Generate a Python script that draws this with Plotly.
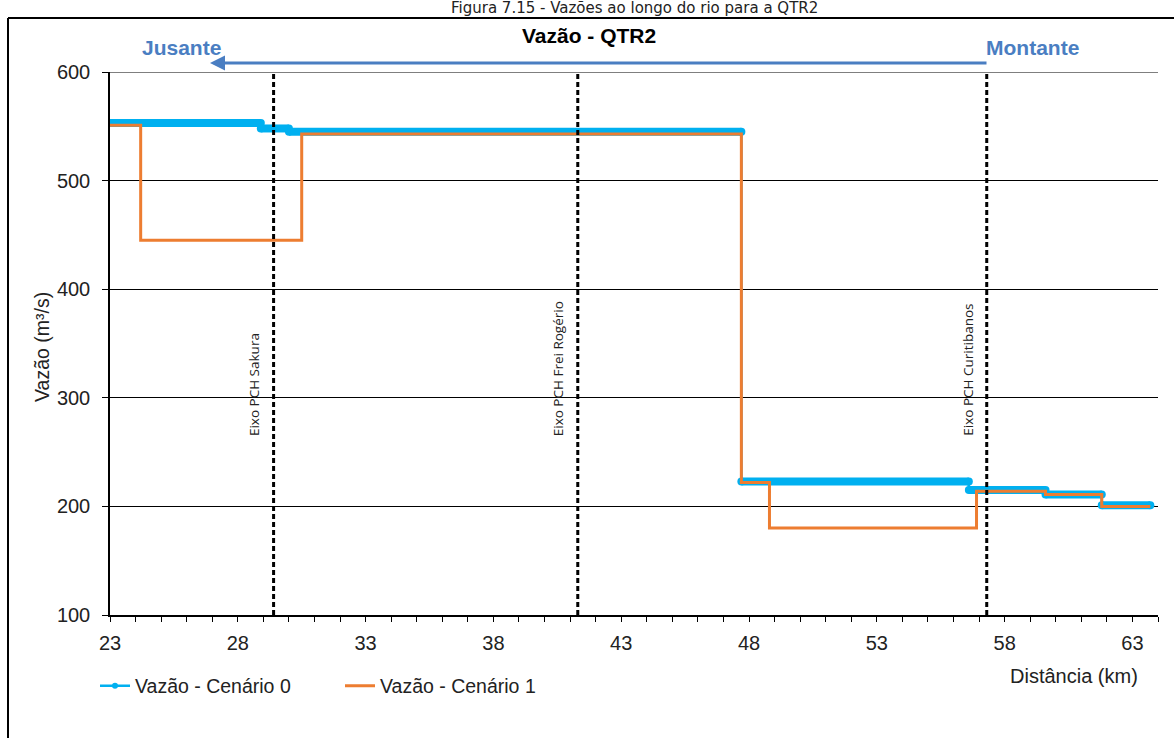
import plotly.graph_objects as go

# ---- data ----
c0_x = [23.0, 28.9, 30.0, 47.7, 56.6, 59.6, 61.8, 63.7]
c0_y = [553, 548, 545, 223, 215, 211, 201, 201]
c1_x = [23.0, 24.2, 30.5, 47.7, 48.8, 56.9, 59.6, 61.8, 63.7]
c1_y = [551, 445, 543, 222, 180, 214, 211, 200, 200]
axes_x = [29.4, 41.3, 57.3]
axes_names = ["Eixo PCH Sakura", "Eixo PCH Frei Rogério", "Eixo PCH Curitibanos"]
x_ticks = [23, 28, 33, 38, 43, 48, 53, 58, 63]
y_ticks = [100, 200, 300, 400, 500, 600]

BLUE = "#00B0F0"
ORANGE = "#ED7D31"
LBLUE = "#4A7EC2"
FONT = "Liberation Sans, Arial, sans-serif"

W, H = 1174, 738
L, R, T, B = 110, 16, 72, 123
pw, ph = W - L - R, H - T - B


def px(x):
    return (x - L) / pw


def py(y):
    return (H - B - y) / ph


fig = go.Figure()

# thick horizontal segments of scenario 0 (dense markers in the original)
seg_x, seg_y = [], []
for i in range(len(c0_x) - 1):
    seg_x += [c0_x[i], c0_x[i + 1], None]
    seg_y += [c0_y[i], c0_y[i], None]
fig.add_trace(go.Scatter(x=seg_x, y=seg_y, mode="lines+markers",
                         line=dict(color=BLUE, width=8),
                         marker=dict(color=BLUE, size=8),
                         showlegend=False, hoverinfo="skip"))
fig.add_trace(go.Scatter(x=c0_x, y=c0_y, mode="lines+markers", line_shape="hv",
                         line=dict(color=BLUE, width=2.5),
                         marker=dict(color=BLUE, size=6),
                         name="Vazão - Cenário 0"))
fig.add_trace(go.Scatter(x=c1_x, y=c1_y, mode="lines", line_shape="hv",
                         line=dict(color=ORANGE, width=3),
                         name="Vazão - Cenário 1"))

shapes = []
for xv in axes_x:
    shapes.append(dict(type="line", xref="x", yref="paper", x0=xv, x1=xv, y0=0, y1=1,
                       line=dict(color="black", width=3, dash="5px,3px")))
# top gridline
shapes.append(dict(type="line", xref="paper", yref="y", x0=0, x1=1, y0=600, y1=600,
                   line=dict(color="black", width=1)))
# frame of the figure
shapes.append(dict(type="line", xref="paper", yref="paper", x0=px(8), x1=px(1180),
                   y0=py(18), y1=py(18), line=dict(color="black", width=2)))
shapes.append(dict(type="line", xref="paper", yref="paper", x0=px(8), x1=px(8),
                   y0=py(18), y1=py(745), line=dict(color="black", width=2)))


def txt(x, y, text, size, color="#222", family=FONT, angle=0):
    return dict(x=px(x), y=py(y), xref="paper", yref="paper", text=text, showarrow=False,
                xanchor="center", yanchor="middle", textangle=angle,
                font=dict(family=family, size=size, color=color))


annotations = []
for xv, name in zip(axes_x, axes_names):
    annotations.append(dict(x=xv, y=263, xref="x", yref="y", text=name, showarrow=False,
                            textangle=-90, xanchor="right", yanchor="bottom", xshift=-8,
                            font=dict(family="Open Sans, sans-serif", size=13.5, color="#222")))
annotations += [
    txt(634, 8.5, "Figura 7.15 - Vazões ao longo do rio para a QTR2", 15,
        family="DejaVu Sans, sans-serif"),
    txt(589, 36, "<b>Vazão - QTR2</b>", 21, color="black"),
    txt(181, 47, "<b>Jusante</b>", 21, color=LBLUE),
    txt(1032, 48, "<b>Montante</b>", 21, color=LBLUE),
    dict(x=px(210), y=py(63), xref="paper", yref="paper", ax=778, ay=0, text="",
         showarrow=True, arrowhead=2, arrowsize=1, arrowwidth=3, arrowcolor=LBLUE,
         standoff=0),
    txt(1074, 676, "Distância (km)", 20),
    txt(42, 347, "Vazão (m³/s)", 19.5, angle=-90),
]

fig.update_layout(
    width=W, height=H,
    margin=dict(l=L, r=R, t=T, b=B),
    paper_bgcolor="white", plot_bgcolor="white",
    font=dict(family=FONT, size=18, color="#222"),
    showlegend=True,
    legend=dict(orientation="h", x=px(95), y=py(686), xanchor="left", yanchor="middle",
                font=dict(family=FONT, size=19.5, color="#222"), itemwidth=30,
                entrywidth=200, bgcolor="rgba(0,0,0,0)"),
    xaxis=dict(range=[23, 64], tickvals=x_ticks, showgrid=False, zeroline=False,
               showline=True, linecolor="black", linewidth=1.5,
               ticks="outside", ticklen=5, tickcolor="black",
               minor=dict(dtick=1, tick0=23, ticks="outside", ticklen=5, tickcolor="black"),
               tickfont=dict(size=20, color="#222"), ticklabelstandoff=4),
    xaxis2=dict(range=[23, 64], overlaying="x", anchor="y", side="bottom",
                tick0=23, dtick=1, ticks="inside", ticklen=5, tickcolor="black",
                showticklabels=False, showgrid=False, zeroline=False, showline=False),
    yaxis=dict(range=[100, 600], tickvals=y_ticks, showgrid=True, gridcolor="black",
               gridwidth=1, zeroline=False, showline=True, linecolor="black", linewidth=1.5,
               ticks="outside", ticklen=6, tickcolor="black",
               tickfont=dict(size=20, color="#222"), ticklabelstandoff=8),
    shapes=shapes, annotations=annotations,
)

fig.write_html("out.html", config={"displayModeBar": False},
               post_script="document.body.style.margin='0';")
